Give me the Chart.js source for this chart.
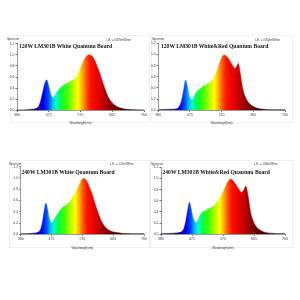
<!DOCTYPE html>
<html>
<head>
<meta charset="utf-8">
<script src="https://cdn.jsdelivr.net/npm/chart.js@4.4.1/dist/chart.umd.min.js"></script>
<style>
  body { margin: 0; background: #fff; width: 300px; height: 300px; position: relative; overflow: hidden; }
  canvas { position: absolute; }
  .frame { position: absolute; border: 1px solid #f0f0f0; }
  .title { position: absolute; font-family: "Liberation Serif", serif; font-weight: bold; font-size: 5.6px; color: #111; white-space: nowrap; line-height: 1; }
  .tiny { position: absolute; font-family: "Liberation Sans", sans-serif; font-size: 2.8px; color: #333; white-space: nowrap; line-height: 1; }
</style>
</head>
<body>
<div class="frame" style="left:10px;top:35px;width:138px;height:86px"></div>
<div class="frame" style="left:151px;top:35px;width:140px;height:86px"></div>
<div class="frame" style="left:9px;top:160px;width:139px;height:86px"></div>
<div class="frame" style="left:150px;top:160px;width:141px;height:86px"></div>

<canvas id="c1" width="150" height="95" style="left:0;top:30px"></canvas>
<canvas id="c2" width="150" height="95" style="left:150px;top:30px"></canvas>
<canvas id="c3" width="150" height="95" style="left:0;top:155px"></canvas>
<canvas id="c4" width="150" height="95" style="left:150px;top:155px"></canvas>

<div class="title" style="left:19px;top:44px">120W LM301B White Quantum Board</div>
<div class="title" style="left:161px;top:44px">120W LM301B White&amp;Red Quantum Board</div>
<div class="title" style="left:21.5px;top:169.5px">240W LM301B White Quantum Board</div>
<div class="title" style="left:162.5px;top:169.5px">240W LM301B White&amp;Red Quantum Board</div>

<div class="tiny" style="left:7px;top:38px">Spectrum</div>
<div class="tiny" style="left:106px;top:39px">L.E. = 0.879mW/nm</div>
<div class="tiny" style="left:152px;top:38px">Spectrum</div>
<div class="tiny" style="left:255px;top:39px">L.E. = 0.954mW/nm</div>
<div class="tiny" style="left:9px;top:163px">Spectrum</div>
<div class="tiny" style="left:110px;top:163px">L.E. = 1.57mW/nm</div>
<div class="tiny" style="left:151px;top:163px">Spectrum</div>
<div class="tiny" style="left:254px;top:163px">L.E. = 1.66mW/nm</div>

<script>
// x axis ticks (nm) and y axis ticks
const xTicks = [380, 475, 570, 665, 760];
const yTicks = [0, 0.2, 0.4, 0.6, 0.8, 1.0, 1.2];

// 120W white
const wl1 =  [380, 420, 438, 446, 452, 458, 464, 469, 474, 480, 489, 498, 514, 539, 559, 574, 586, 594, 602, 609, 624, 639, 654, 674, 699, 729, 760];
const val1 = [0.01, 0.02, 0.04, 0.09, 0.2, 0.36, 0.5, 0.55, 0.46, 0.31, 0.23, 0.32, 0.43, 0.52, 0.61, 0.82, 0.96, 1.0, 0.99, 0.94, 0.73, 0.46, 0.23, 0.09, 0.03, 0.015, 0.01];

// 120W white & red
const wl2 =  [380, 420, 436, 444, 450, 456, 462, 467, 472, 480, 495, 510, 530, 545, 555, 567, 577, 590, 600, 610, 616, 620, 625, 633, 645, 665, 695, 730, 760];
const val2 = [0.01, 0.02, 0.03, 0.08, 0.18, 0.36, 0.54, 0.44, 0.29, 0.19, 0.33, 0.41, 0.48, 0.57, 0.69, 0.9, 0.99, 0.93, 0.83, 0.75, 0.8, 0.84, 0.69, 0.39, 0.19, 0.07, 0.02, 0.01, 0.01];

// 240W white
const wl3 =  [380, 420, 434, 442, 447, 452, 458, 463, 468, 475, 491, 506, 527, 542, 558, 567, 573, 579, 585, 599, 614, 630, 650, 676, 720, 760];
const val3 = [0.01, 0.02, 0.04, 0.1, 0.22, 0.4, 0.55, 0.44, 0.29, 0.21, 0.34, 0.46, 0.55, 0.67, 0.85, 0.96, 0.99, 0.98, 0.93, 0.73, 0.46, 0.22, 0.08, 0.03, 0.01, 0.01];

// 240W white & red
const wl4 =  [380, 420, 440, 450, 456, 462, 467, 472, 478, 487, 504, 525, 545, 566, 583, 594, 606, 618, 627, 634, 640, 647, 655, 668, 688, 714, 760];
const val4 = [0.01, 0.02, 0.04, 0.1, 0.24, 0.44, 0.57, 0.46, 0.3, 0.21, 0.38, 0.45, 0.53, 0.71, 0.92, 0.99, 0.92, 0.81, 0.75, 0.8, 0.86, 0.68, 0.38, 0.17, 0.06, 0.02, 0.01];

// spectrum colours (nm, colour)
const specStops = [
    [380, '#1a1a1a'], [425, '#1a0040'], [445, '#1a00a0'], [460, '#0000ff'],
    [475, '#0050ff'], [487, '#00c8ff'], [498, '#00ffc0'], [510, '#00ff40'],
    [530, '#40ff00'], [550, '#c0ff00'], [563, '#ffff00'], [575, '#ffb000'],
    [588, '#ff5000'], [600, '#ff1000'], [625, '#e00000'], [650, '#a00000'],
    [680, '#600000'], [710, '#300000'], [760, '#1a0000']
];

function spectrumFill(shift) {
    return function (context) {
        const chart = context.chart;
        if (!chart.chartArea) return null;
        const xs = chart.scales.x;
        const x0 = xs.getPixelForValue(380);
        const x1 = xs.getPixelForValue(760);
        const g = chart.ctx.createLinearGradient(x0, 0, x1, 0);
        specStops.forEach(s => {
            const t = Math.min(1, Math.max(0, (s[0] + shift - 380) / 380));
            g.addColorStop(t, s[1]);
        });
        return g;
    };
}

function renderChart(id, wl, vals, shift, yWidth, pad) {
    const ctx = document.getElementById(id).getContext('2d');
    return new Chart(ctx, {
        type: 'line',
        data: {
            datasets: [{
                data: wl.map((w, i) => ({ x: w, y: vals[i] })),
                backgroundColor: spectrumFill(shift),
                borderColor: spectrumFill(shift),
                borderWidth: 0.5,
                fill: 'origin',
                tension: 0.4,
                cubicInterpolationMode: 'monotone',
                pointRadius: 0
            }]
        },
        options: {
            responsive: false,
            animation: false,
            layout: { padding: { left: 0, right: pad.right, top: pad.top, bottom: 0 } },
            plugins: { legend: { display: false }, tooltip: { enabled: false } },
            scales: {
                x: {
                    type: 'linear',
                    min: xTicks[0],
                    max: xTicks[xTicks.length - 1],
                    afterBuildTicks: s => { s.ticks = xTicks.map(v => ({ value: v })); },
                    ticks: { font: { size: 3.5, family: 'Liberation Sans' }, color: '#444', padding: 1, maxRotation: 0, autoSkip: false },
                    grid: { display: true, drawOnChartArea: false, tickLength: 1.5, color: '#666' },
                    border: { display: true, color: '#555', width: 0.6 },
                    title: { display: true, text: 'Wavelength(nm)', font: { size: 3, family: 'Liberation Sans' }, color: '#333', padding: 0 },
                    afterFit: s => { s.height = pad.xh; s.paddingLeft = 0; s.paddingRight = 0; }
                },
                y: {
                    min: 0,
                    max: 1.2,
                    afterBuildTicks: s => { s.ticks = yTicks.map(v => ({ value: v })); },
                    ticks: { font: { size: 3.5, family: 'Liberation Sans' }, color: '#444', padding: 1, callback: v => v.toFixed(1) },
                    grid: { display: true, drawOnChartArea: false, tickLength: 1.5, color: '#666' },
                    border: { display: true, color: '#555', width: 0.6 },
                    afterFit: s => { s.width = yWidth; s.paddingTop = 0; s.paddingBottom = 0; }
                }
            }
        }
    });
}

renderChart('c1', wl1, val1, 0, 17, { right: 6, top: 13.7, xh: 14.5 });
renderChart('c2', wl2, val2, -15, 8.3, { right: 15, top: 13.3, xh: 14.7 });
renderChart('c3', wl3, val3, -15, 20.7, { right: 6, top: 11.7, xh: 15.7 });
renderChart('c4', wl4, val4, -3, 11, { right: 15, top: 12.3, xh: 15.7 });
</script>
</body>
</html>
